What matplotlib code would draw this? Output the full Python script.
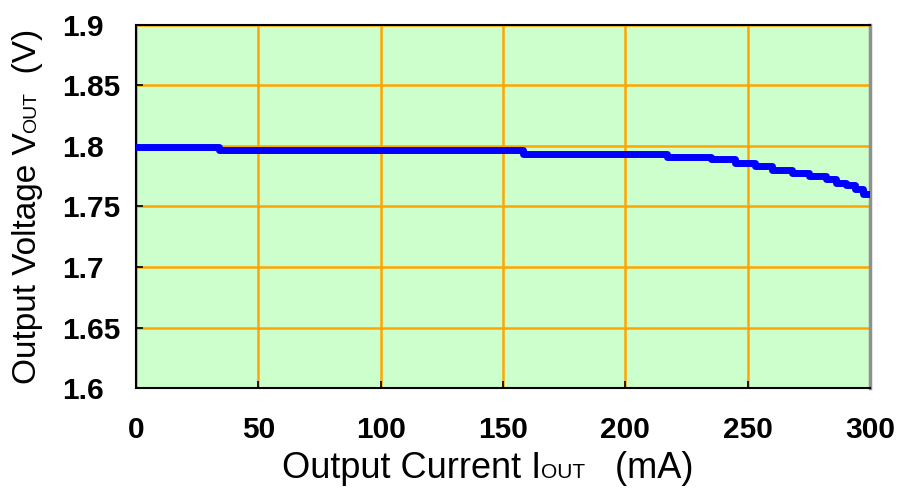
import matplotlib
matplotlib.use('Agg')
import matplotlib.pyplot as plt
from matplotlib.transforms import IdentityTransform

# ---- data ----
current = [0, 34, 158, 217, 235, 245, 253, 260, 268, 275, 282, 286, 290, 294, 297, 300]
voltage = [1.7995, 1.7967, 1.7936, 1.7910, 1.7890, 1.7857, 1.7835, 1.7802, 1.7779,
           1.7752, 1.7725, 1.7697, 1.7675, 1.7642, 1.7601, 1.7601]
x_ticks = [0, 50, 100, 150, 200, 250, 300]
x_tick_labels = ['0', '50', '100', '150', '200', '250', '300']
y_ticks = [1.6, 1.65, 1.7, 1.75, 1.8, 1.85, 1.9]
y_tick_labels = ['1.6', '1.65', '1.7', '1.75', '1.8', '1.85', '1.9']
xlabel_parts = ['Output Current I', 'OUT', '   (mA)']
ylabel_parts = ['Output Voltage V', 'OUT', '  (V)']

FONT = 'Liberation Sans'
W, H = 898, 493
fig = plt.figure(figsize=(W / 100, H / 100), dpi=100)
fig.patch.set_facecolor('white')
ax = fig.add_axes([136 / W, 1 - 388 / H, (870 - 136) / W, (388 - 25) / H])
ax.set_facecolor('#CCFFCC')

ax.step(current, voltage, where='post', color='#0000FF', lw=5, zorder=3)
ax.set_xlim(0, 300)
ax.set_ylim(1.6, 1.9)
ax.set_xticks(x_ticks)
ax.set_yticks(y_ticks)
ax.set_xticklabels(x_tick_labels, fontweight='bold', fontsize=21.5, family=FONT)
ax.set_yticklabels(y_tick_labels, fontweight='bold', fontsize=21.5, family=FONT,
                   ha='left')
ax.grid(True, color='#FFA500', lw=1.8, zorder=1)
ax.set_axisbelow(True)
ax.tick_params(axis='x', direction='in', length=5, width=1.2, pad=20)
ax.tick_params(axis='y', direction='in', length=5, width=1.2, pad=53)
for s in ['left', 'bottom', 'top']:
    ax.spines[s].set_color('black')
    ax.spines[s].set_linewidth(1.5)
ax.spines['right'].set_color('#909090')
ax.spines['right'].set_linewidth(2.5)

fig.canvas.draw()
renderer = fig.canvas.get_renderer()

# x label pieces (baseline-aligned, smaller "OUT")
sizes = [26, 15, 26]
texts = []
for part, fs in zip(xlabel_parts, sizes):
    t = fig.text(0, 0, part, fontsize=fs, family=FONT, ha='left', va='baseline',
                 transform=IdentityTransform())
    texts.append(t)
widths = [t.get_window_extent(renderer).width for t in texts]
x = 487.5 - sum(widths) / 2
for t, w in zip(texts, widths):
    t.set_position((x, 15))
    x += w

# y label pieces (rotated)
ysizes = [24, 14, 24]
texts = []
for part, fs in zip(ylabel_parts, ysizes):
    t = fig.text(0, 0, part, fontsize=fs, family=FONT, ha='left', va='baseline',
                 rotation=90, rotation_mode='anchor', transform=IdentityTransform())
    texts.append(t)
heights = [t.get_window_extent(renderer).height for t in texts]
y = (H - 206.5) - sum(heights) / 2
for t, h in zip(texts, heights):
    t.set_position((36, y))
    y += h

fig.savefig('out.png', dpi=100, facecolor='white')
